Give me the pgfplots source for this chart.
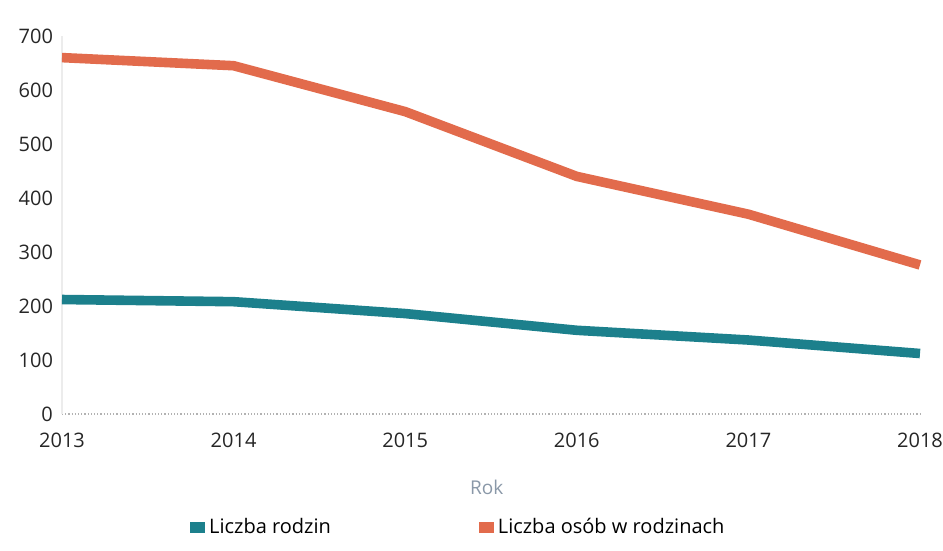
\documentclass[border=0pt]{standalone}
\usepackage{pgfplots}
\pgfplotsset{compat=1.18}
\usepackage{fontspec}
\setmainfont{Open Sans}
\definecolor{tealc}{HTML}{1C808C}
\definecolor{orangec}{HTML}{E26B4C}
\definecolor{roklabel}{HTML}{8A98A8}
\begin{document}
\begin{tikzpicture}
\useasboundingbox (-31pt,-68.5pt) rectangle (440.5pt,207pt);
\begin{axis}[
  at={(0,0)}, anchor=south west,
  scale only axis,
  width=429pt, height=189pt,
  xmin=2013, xmax=2018,
  ymin=0, ymax=700,
  xtick={2013,2014,2015,2016,2017,2018},
  xticklabels={2013,2014,2015,2016,2017,2018},
  ytick={0,100,200,300,400,500,600,700},
  major tick length=0pt,
  axis lines*=left,
  x axis line style={gray!60, densely dotted, line width=0.6pt},
  y axis line style={gray!15, line width=0.6pt},
  /pgf/number format/assume math mode=true,
  ticklabel style={font=\fontsize{10}{12}\selectfont, text=black!85},
  yticklabel style={xshift=-1pt},
  xticklabel style={yshift=-6pt},
  xlabel={Rok},
  xlabel style={font=\fontsize{9.5}{11}\selectfont, text=roklabel, at={(axis description cs:0.495,-0.193)}, anchor=center},
  legend columns=2,
  legend cell align=left,
  legend style={draw=none, fill=none, at={(0.149,-0.30)}, anchor=west,
    font=\fontsize{10}{12}\selectfont, inner sep=0pt,
    /tikz/every even column/.append style={column sep=72pt}},
  legend image code/.code={\fill[#1, draw=none] (0pt,-2.8pt) rectangle (7.5pt,2.8pt);},
  clip=false,
]
\addplot[tealc, line width=4.8pt, line join=round] coordinates {
  (2013,212) (2014,208) (2015,186) (2016,155) (2017,137) (2018,112)
};
\addlegendentry{Liczba rodzin}
\addplot[orangec, line width=4.8pt, line join=round] coordinates {
  (2013,660) (2014,645) (2015,560) (2016,440) (2017,370) (2018,276)
};
\addlegendentry{Liczba osób w rodzinach}
\end{axis}
\end{tikzpicture}
\end{document}
